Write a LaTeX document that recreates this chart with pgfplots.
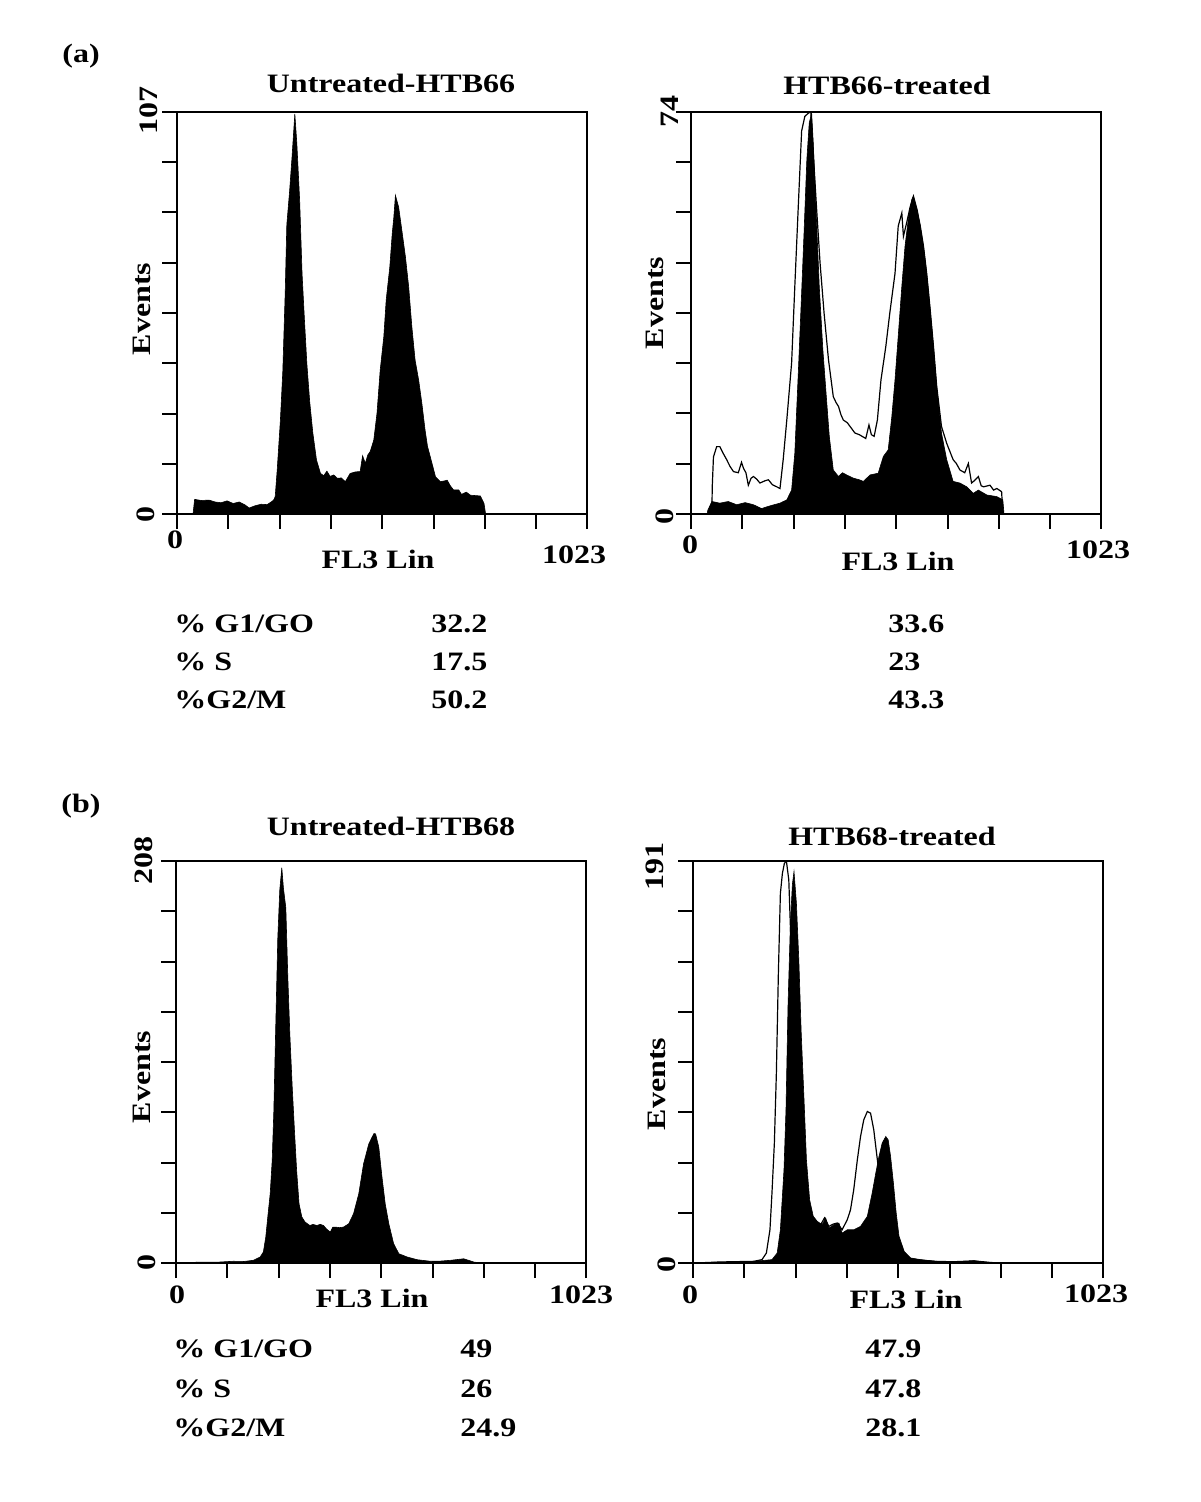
\documentclass[border=0pt]{standalone}
\usepackage{fontspec}
\setmainfont{Liberation Serif}
\usepackage{graphicx}
\usepackage{pgfplots}
\pgfplotsset{compat=1.18}

% text placed in pixels of the 1200x1502 reference (1 px = 0.5pt)
\newcommand\lab{\fontsize{16}{19}\selectfont\bfseries}
\newcommand\sq[1]{\scalebox{1}[0.83]{#1}}

\pgfplotsset{
  hist/.style={
    scale only axis,
    width=205pt, height=201pt,
    xmin=0, xmax=1023, ymin=0,
    axis line style={line width=1.3pt},
    tick pos=left, tick align=outside,
    xtick={0,128,256,384,512,640,768,896,1023},
    xticklabels={}, yticklabels={},
    major tick length=7.5pt,
    every tick/.style={black, line width=1pt},
  },
  fillhist/.style={fill=black, draw=black, line width=0.3pt},
  linehist/.style={black, line width=0.6pt},
}

\begin{document}
\begin{tikzpicture}
\begin{scope}[x=0.5pt, y=-0.5pt]
\fill[white] (0,0) rectangle (1200,1502);
\path[use as bounding box] (0,0) rectangle (1200,1502);
\end{scope}

% (a) left: Untreated-HTB66
\begin{axis}[hist, at={(88.5pt,-257pt)}, anchor=south west, ymax=107,
  ytick={0,13.375,26.75,40.125,53.5,66.875,80.25,93.625,107}]
\addplot[fillhist] coordinates {
(40,0) (44,3.9) (60,3.6) (80,3.7) (95,3.2) (110,3.0) (125,3.5) (140,2.8)
(155,3.2) (170,2.4) (180,1.6) (195,2.2) (210,2.6) (225,2.5) (235,3.2) (241,3.7)
(245,4.6) (250,11.7) (258,25) (264,38) (270,59) (274,77) (281,86) (287,95)
(294,106.5) (299,98.6) (306,83.5) (312,64) (318,51.6) (324,40) (331,30) (339,21.5)
(348,14.4) (358,10.8) (366,10.2) (374,11.4) (382,10) (391,10.4) (400,9.5) (410,9.6)
(420,8.6) (432,10.8) (445,11.2) (457,11.3) (463,15.5) (470,13.5) (476,15.7) (482,16.6)
(491,19.7) (499,26.8) (507,38.3) (516,47.2) (522,57) (531,65.8) (537,74.6) (541,79)
(545,84.8) (553,81.7) (561,75.5) (570,68.4) (578,60.5) (586,49.8) (594,41) (603,35.6)
(611,29.4) (619,22.3) (625,18) (632,15.2) (645,9.9) (657,8.6) (667,8.8) (674,9)
(682,7.5) (690,6.4) (703,6.4) (710,5.2) (715,5.5) (722,5.8) (732,5) (745,4.9)
(757,4.8) (766,2.8) (770,0)
} \closedcycle;
\end{axis}

% (a) right: HTB66-treated
\begin{axis}[hist, at={(345.5pt,-257pt)}, anchor=south west, ymax=74,
  ytick={0,9.25,18.5,27.75,37,46.25,55.5,64.75,74}]
\addplot[fillhist] coordinates {
(40,0) (42,0.7) (52,2.3) (72,2) (93,2.3) (114,1.7) (135,2.1) (156,1.7)
(176,1.0) (197,1.5) (222,2) (239,2.6) (251,4.4) (259,11.2) (268,26.5) (276,40.7)
(282,51.7) (289,65.2) (295,72) (301,73.8) (305,68.3) (313,54.2) (320,41.9) (329,30.2)
(337,22.2) (345,14.3) (355,8.1) (368,6.9) (378,7.6) (388,7.2) (405,6.6) (420,6.3)
(430,6) (447,7.2) (467,7.5) (480,10.6) (492,11.8) (501,17.9) (509,24.7) (517,32.7)
(526,41.9) (534,49.3) (543,54.8) (551,57.9) (555,58.5) (564,56) (572,53) (580,49.3)
(588,44.3) (596,38.2) (605,30.8) (613,23.5) (625,14.9) (638,10) (654,6) (671,5.7)
(688,5) (704,3.8) (717,4.4) (738,3.5) (763,3.2) (778,2.6) (781,0)
} \closedcycle;
\addplot[linehist] coordinates {
(52,0) (53,5) (56,10.5) (64,12.4) (72,12.4) (80,11.2) (89,10) (97,8.8)
(106,7.8) (118,7.6) (126,9.5) (131,8.4) (137,7.6) (143,5.3) (150,6.6) (156,6.9)
(164,6.4) (172,5.7) (184,6.1) (193,6.3) (203,5.4) (214,5) (222,4.7) (230,10)
(239,17.3) (251,27.8) (259,41.9) (268,57.2) (276,70.5) (284,73.2) (293,73.8) (299,74)
(304,67.7) (313,56.6) (322,46.2) (332,37) (343,28.4) (355,21.6) (362,20.5) (368,19.8)
(374,18.3) (380,17.3) (390,16.8) (397,16.1) (409,14.9) (420,14.6) (436,13.9) (444,16.4)
(450,14.6) (457,14.3) (465,17.3) (474,24.7) (486,30.8) (496,37) (509,44.3) (517,53)
(526,55.4) (530,51.1) (538,53.6) (547,56.6) (555,58.5) (564,56) (572,53) (580,49.3)
(588,44.3) (596,38.2) (605,30.8) (613,23.5) (625,16.1) (638,13) (654,10) (662,9.3)
(671,8.1) (683,7.6) (692,9.3) (700,5.7) (708,6.2) (717,6.9) (724,5.2) (730,5)
(746,5.3) (755,4.4) (763,4.7) (775,4.1) (778,0)
};
\end{axis}

% (b) left: Untreated-HTB68
\begin{axis}[hist, at={(88pt,-631.5pt)}, anchor=south west, ymax=208,
  ytick={0,26,52,78,104,130,156,182,208}]
\addplot[fillhist] coordinates {
(40,0) (52,0.5) (100,0.4) (143,0.9) (170,0.8) (193,1.4) (210,3.1) (218,5.7)
(224,13.4) (229,23.8) (235,35.8) (240,53) (244,78) (249,123.6) (254,168.3) (259,193.3)
(264,204.5) (268,194) (274,183.8) (279,147.7) (284,118.4) (290,90.9) (296,66.8) (301,47.8)
(307,30.6) (314,23.8) (322,21.2) (334,19.4) (342,20) (351,19.4) (360,20) (368,19.4)
(376,17.5) (385,16) (391,18.5) (397,18.6) (408,18.3) (418,18.6) (431,20.3) (443,25.5)
(456,35.8) (468,51.3) (481,61.6) (489,65) (494,67) (498,66.8) (506,59.9) (514,44.4)
(522,30.6) (531,20.3) (543,10) (556,4.8) (577,3.1) (602,1.7) (635,0.9) (660,1.0)
(685,1.4) (718,2.2) (743,0.5) (760,0)
} \closedcycle;
\end{axis}

% (b) right: HTB68-treated
\begin{axis}[hist, at={(346.5pt,-631.5pt)}, anchor=south west, ymax=191,
  ytick={0,23.875,47.75,71.625,95.5,119.375,143.25,167.125,191}]
\addplot[fillhist] coordinates {
(30,0) (39,0.3) (100,0.5) (152,0.8) (197,1.6) (210,4.7) (218,15.8) (227,44.3)
(232,72.8) (237,121.8) (243,161.4) (248,180) (252,186) (258,170.9) (264,144) (270,109.2)
(277,77.5) (283,49) (291,30) (300,22.2) (310,19.8) (322,18.2) (331,21.4) (339,16.6)
(352,18.2) (364,19) (372,14.2) (385,15.8) (401,15.8) (418,17.4) (435,22.2) (447,33.2)
(456,42.7) (464,50.6) (472,57) (481,60.1) (487,58.5) (493,50.6) (500,38) (507,23.7)
(514,12.7) (527,5.5) (543,2.4) (568,1.6) (610,0.8) (652,0.5) (701,1.1) (735,0.3)
(740,0)
} \closedcycle;
\addplot[linehist] coordinates {
(6,0) (68,0.5) (152,0.8) (172,1.6) (183,4.7) (192,15.8) (197,33.2) (203,57)
(208,90.2) (213,137.7) (218,175.6) (223,185.1) (228,189.9) (233,191) (239,182) (243,159.8)
(247,140.7) (256,93.4) (268,53.8) (281,30) (293,22.2) (306,19.8) (318,18) (328,21.4)
(339,17.4) (350,18.5) (360,19) (372,15.8) (385,20.6) (393,25.3) (401,34.8) (410,49)
(418,60.1) (426,68) (435,72) (443,71.2) (451,63.3) (460,49) (468,38) (476,30)
(485,22) (495,14) (505,8) (515,4.5) (530,2.5) (560,1.5) (600,0.8) (650,0.6)
(700,1.0) (740,0.3) (760,0)
};
\end{axis}

\begin{scope}[x=0.5pt, y=-0.5pt, every node/.append style={inner sep=0pt, font=\lab}]
% panel letters and titles
\node[anchor=base west] at (62,63) {\sq{(a)}};
\node[anchor=base west] at (61,812) {\sq{(b)}};
\node[anchor=base] at (391,93) {\sq{Untreated-HTB66}};
\node[anchor=base] at (887,95) {\sq{HTB66-treated}};
\node[anchor=base] at (391,835) {\sq{Untreated-HTB68}};
\node[anchor=base] at (892,845) {\sq{HTB68-treated}};

% axis labels, (a) left
\node[anchor=base, rotate=90] at (157,111) {\sq{107}};
\node[anchor=base, rotate=90] at (154,514) {\sq{0}};
\node[anchor=base, rotate=90] at (150,309) {\sq{Events}};
\node[anchor=base] at (175,548) {\sq{0}};
\node[anchor=base] at (378,568) {\sq{FL3 Lin}};
\node[anchor=base] at (574,563) {\sq{1023}};
% (a) right
\node[anchor=base, rotate=90] at (678,112) {\sq{74}};
\node[anchor=base, rotate=90] at (673,516) {\sq{0}};
\node[anchor=base, rotate=90] at (663,303) {\sq{Events}};
\node[anchor=base] at (690,553) {\sq{0}};
\node[anchor=base] at (898,570) {\sq{FL3 Lin}};
\node[anchor=base] at (1098,558) {\sq{1023}};
% (b) left
\node[anchor=base, rotate=90] at (152,860) {\sq{208}};
\node[anchor=base, rotate=90] at (155,1262) {\sq{0}};
\node[anchor=base, rotate=90] at (150,1077) {\sq{Events}};
\node[anchor=base] at (177,1303) {\sq{0}};
\node[anchor=base] at (372,1307) {\sq{FL3 Lin}};
\node[anchor=base] at (581,1303) {\sq{1023}};
% (b) right
\node[anchor=base, rotate=90] at (663,866) {\sq{191}};
\node[anchor=base, rotate=90] at (675,1264) {\sq{0}};
\node[anchor=base, rotate=90] at (665,1084) {\sq{Events}};
\node[anchor=base] at (690,1303) {\sq{0}};
\node[anchor=base] at (906,1308) {\sq{FL3 Lin}};
\node[anchor=base] at (1096,1302) {\sq{1023}};

% cell-cycle percentages, (a)
\node[anchor=base west] at (174,632) {\sq{\% G1/GO}};
\node[anchor=base west] at (174,670) {\sq{\% S}};
\node[anchor=base west] at (174,708) {\sq{\%G2/M}};
\node[anchor=base west] at (431,632) {\sq{32.2}};
\node[anchor=base west] at (431,670) {\sq{17.5}};
\node[anchor=base west] at (431,708) {\sq{50.2}};
\node[anchor=base west] at (888,632) {\sq{33.6}};
\node[anchor=base west] at (888,670) {\sq{23}};
\node[anchor=base west] at (888,708) {\sq{43.3}};
% (b)
\node[anchor=base west] at (173,1357) {\sq{\% G1/GO}};
\node[anchor=base west] at (173,1397) {\sq{\% S}};
\node[anchor=base west] at (173,1436) {\sq{\%G2/M}};
\node[anchor=base west] at (460,1357) {\sq{49}};
\node[anchor=base west] at (460,1397) {\sq{26}};
\node[anchor=base west] at (460,1436) {\sq{24.9}};
\node[anchor=base west] at (865,1357) {\sq{47.9}};
\node[anchor=base west] at (865,1397) {\sq{47.8}};
\node[anchor=base west] at (865,1436) {\sq{28.1}};
\end{scope}
\end{tikzpicture}
\end{document}
